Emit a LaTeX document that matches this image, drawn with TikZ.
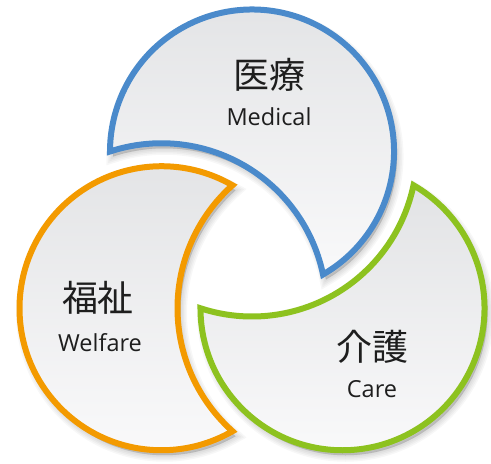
\documentclass[tikz,border=0pt]{standalone}
\usepackage{fontspec}
\setmainfont{Open Sans}
\newfontfamily\jpfont{Noto Sans CJK JP}
\definecolor{cblue}{HTML}{4A8ACB}
\definecolor{corange}{HTML}{F39A00}
\definecolor{cgreen}{HTML}{8DC21F}
\definecolor{fillTop}{HTML}{E2E3E5}
\definecolor{fillBot}{HTML}{F9F9FA}
\definecolor{txt}{HTML}{1E1E1E}
\tikzset{
  petal/.style={line width=6pt, line join=miter, miter limit=20, top color=fillTop, bottom color=fillBot},
  shadowlayer/.style={fill=black, draw=black, opacity=0.03},
  jplabel/.style={font=\jpfont\fontsize{36}{40}\selectfont, text=txt, inner sep=0pt},
  enlabel/.style={font=\fontsize{23.5}{26}\selectfont, text=txt, inner sep=0pt}
}
% each petal: start mid outer arc, go to arc-arc cusp, bite arc, other cusp, back along outer arc
\newcommand{\bluepath}{(252pt,312.5pt) ++(60:142pt) arc[start angle=60,end angle=180,radius=142pt] arc[start angle=108.19,end angle=11.81,radius=165pt] arc[start angle=300,end angle=420,radius=142pt] -- cycle}
\newcommand{\orangepath}{(161.5pt,155.75pt) ++(180:142pt) arc[start angle=180,end angle=300,radius=142pt] arc[start angle=228.19,end angle=131.81,radius=165pt] arc[start angle=60,end angle=180,radius=142pt] -- cycle}
\newcommand{\greenpath}{(342.5pt,155.75pt) ++(300:142pt) arc[start angle=300,end angle=420,radius=142pt] arc[start angle=348.19,end angle=251.81,radius=165pt] arc[start angle=180,end angle=300,radius=142pt] -- cycle}
\begin{document}
\begin{tikzpicture}[x=1pt,y=1pt]
\useasboundingbox[fill=white] (0,0) rectangle (491,464);
% soft shadows
\foreach \w in {1,4,7,10,13}{
  \path[shadowlayer, line width=\w pt, shift={(3pt,-5pt)}] \orangepath;
  \path[shadowlayer, line width=\w pt, shift={(3pt,-5pt)}] \greenpath;
  \path[shadowlayer, line width=\w pt, shift={(3pt,-5pt)}] \bluepath;
}
% petals
\path[petal, draw=corange] \orangepath;
\path[petal, draw=cgreen] \greenpath;
\path[petal, draw=cblue] \bluepath;
% labels
\node[jplabel] (medjp) at (269,389) {医療};
\node[enlabel] (meden) at (269,347) {Medical};
\node[jplabel] (weljp) at (98,166) {福祉};
\node[enlabel] (welen) at (100,121) {Welfare};
\node[jplabel] (carejp) at (372,117) {介護};
\node[enlabel] (careen) at (372,75) {Care};
\end{tikzpicture}
\end{document}
